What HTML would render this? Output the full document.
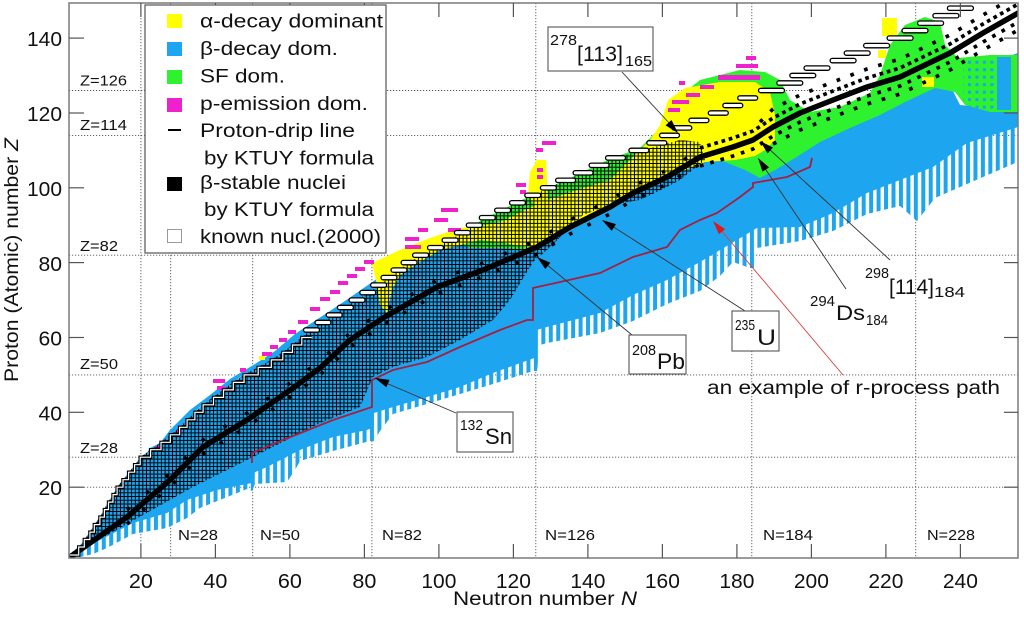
<!DOCTYPE html>
<html><head><meta charset="utf-8"><style>
html,body{margin:0;padding:0;background:#fff;overflow:hidden;}
svg{display:block;}
text{font-family:"Liberation Sans",Arial,sans-serif;fill:#111;}
</style></head><body>
<svg width="1024" height="621" viewBox="0 0 1024 621" xmlns="http://www.w3.org/2000/svg">
<defs>
<clipPath id="pc"><rect x="69" y="3" width="949" height="555"/></clipPath>
<pattern id="grid" patternUnits="userSpaceOnUse" width="3.725" height="3.742" patternTransform="translate(64.54,560.13)">
<path d="M0 0H3.725V3.742H0Z M0.5 0.5V3.242H3.225V0.5Z" fill="#000" fill-rule="evenodd"/>
</pattern>
<pattern id="teeth" patternUnits="userSpaceOnUse" width="7.45" height="20" patternTransform="translate(64.54,0)">
<rect x="0" y="0" width="4" height="20" fill="#1ea5ef"/>
</pattern>
<pattern id="gdots" patternUnits="userSpaceOnUse" width="7.45" height="7.484" patternTransform="translate(64.54,560.13)">
<rect x="2" y="2" width="3" height="3" fill="#1ea5ef"/>
</pattern>
</defs>

<rect x="0" y="0" width="1024" height="621" fill="#fff"/>

<g stroke="#555" stroke-width="0.9" stroke-dasharray="1.2 1.8" fill="none">
<line x1="69" y1="487.2" x2="1018" y2="487.2"/>
<line x1="69" y1="457.2" x2="1018" y2="457.2"/>
<line x1="69" y1="374.9" x2="1018" y2="374.9"/>
<line x1="69" y1="255.2" x2="1018" y2="255.2"/>
<line x1="69" y1="135.4" x2="1018" y2="135.4"/>
<line x1="69" y1="90.5" x2="1018" y2="90.5"/>
<line x1="140.9" y1="3" x2="140.9" y2="558"/>
<line x1="170.7" y1="3" x2="170.7" y2="558"/>
<line x1="252.7" y1="3" x2="252.7" y2="558"/>
<line x1="371.9" y1="3" x2="371.9" y2="558"/>
<line x1="535.8" y1="3" x2="535.8" y2="558"/>
<line x1="751.8" y1="3" x2="751.8" y2="558"/>
<line x1="915.7" y1="3" x2="915.7" y2="558"/>
</g>

<g clip-path="url(#pc)">
<polygon fill="#1ea5ef" points="69,558 72,552 79,547 84,540 90,532 94,525 100,517 104,510 108,502 113,495 117,487 123,480 129,472 135,465 140,457 151,450 161,442 170,435 180,427 187,420 195,412 203,405 213,397 223,390 233,382 244,375 258,367 271,360 283,352 292,345 302,337 311,330 323,322 334,315 345,307 357,300 368,293 379,285 389,278 399,270 409,263 421,255 435,248 450,240 462,233 474,225 487,218 503,210 517,203 533,195 548,188 566,180 583,173 599,165 615,158 660,150 700,140 740,130 760,150 773,160 800,145 840,130 873,113 907,97 933,83 950,85 960,105 995,108 997,60 1018,53 1018,127 967,143 933,167 900,180 867,193 833,213 800,227 757,228 700,262 667,280 633,295 600,313 543,328 537,330 537,357 493,373 460,387 427,397 393,407 374,413 372,428 367,430 333,437 300,450 267,467 253,473 252,483 217,490 187,500 167,513 133,523 100,540 80,550 72,557"/>
<polygon fill="url(#teeth)" points="72,559 93,554 107,548 133,534 167,528 187,518 200,508 247,489 252,491 255,484 287,482 295,470 300,461 333,451 370,441 374,441 380,431 393,414 427,404 460,394 493,384 533,371 537,371 540,345 547,343 600,333 633,321 667,304 700,291 720,276 733,262 750,268 755,268 757,248 800,241 833,231 867,214 900,206 917,221 935,198 967,184 1013,164 1018,161 1018,125 967,141 933,165 900,178 867,191 833,211 800,225 757,226 700,260 667,278 633,293 600,311 543,326 537,328 537,355 493,371 460,385 427,395 393,405 374,411 372,426 367,428 333,435 300,448 267,465 253,471 252,481 217,488 187,498 167,511 133,521 100,538 80,548 72,555"/>
<polygon fill="#1ea5ef" points="150,448 160,443 170,430 190,410 210,395 230,379 255,364 275,351 295,334 345,301 378,278 389,278 357,300 307,333 287,350 267,363 240,377 220,393 200,407 180,427 160,443 145,456"/>

<polygon fill="#2ef22e" points="452,238 470,228 483,219 500,211 517,202 533,195 548,188 566,180 583,172 599,164 615,157 640,148 660,128 675,100 700,80 740,70 765,72 780,80 790,100 810,112 840,107 870,93 880,75 890,45 905,25 925,17 940,22 945,45 958,58 990,55 1018,55 1018,112 990,112 965,105 955,92 935,88 905,102 880,115 850,128 820,142 795,158 775,170 760,178 745,170 720,160 700,160 667,180 633,196 610,210 570,230 537,250 500,248 470,248"/>
<rect x="963" y="60" width="34" height="50" fill="url(#gdots)"/>
<rect x="997" y="57" width="14" height="53" fill="#1ea5ef"/>

<polygon fill="#ffff00" points="372,263 400,250 430,238 460,228 480,226 500,222 525,210 550,199 583,188 610,180 630,160 650,140 660,125 668,100 685,88 720,82 755,82 770,92 775,115 775,140 765,150 755,156 735,160 705,162 690,168 670,176 650,186 633,193 615,203 595,214 575,223 555,236 540,248 520,246 500,242 480,240 460,245 440,250 420,262 400,275 392,290 387,313 380,305 377,285"/>
<polygon fill="#ffff00" points="528,195 530,172 537,160 546,160 548,200 538,212"/>
<g fill="#ffff00">
<rect x="882" y="18" width="15" height="18"/>
<rect x="878" y="50" width="8" height="8"/>
<rect x="922" y="77" width="12" height="10"/>
<rect x="259" y="356" width="6" height="4"/>
</g>

<g fill="#ee22cc">
<rect x="155" y="446" width="7" height="4"/>
<rect x="176" y="430" width="6" height="4"/>
<rect x="213" y="379" width="12" height="4"/>
<rect x="217" y="386" width="8" height="4"/>
<rect x="240" y="368" width="6" height="4"/>
<rect x="262" y="352" width="10" height="4"/>
<rect x="270" y="345" width="8" height="4"/>
<rect x="279" y="338" width="8" height="4"/>
<rect x="288" y="330" width="8" height="4"/>
<rect x="298" y="320" width="10" height="4"/>
<rect x="310" y="307" width="10" height="4"/>
<rect x="320" y="297" width="10" height="4"/>
<rect x="330" y="290" width="10" height="4"/>
<rect x="338" y="281" width="10" height="4"/>
<rect x="347" y="274" width="10" height="4"/>
<rect x="355" y="267" width="10" height="4"/>
<rect x="364" y="260" width="10" height="4"/>
<rect x="405" y="245" width="16" height="4"/>
<rect x="405" y="237" width="14" height="4"/>
<rect x="418" y="228" width="10" height="4"/>
<rect x="448" y="228" width="13" height="4"/>
<rect x="434" y="218" width="14" height="4"/>
<rect x="441" y="208" width="17" height="4"/>
<rect x="542" y="141" width="14" height="4"/>
<rect x="536" y="148" width="7" height="4"/>
<rect x="537" y="168" width="6" height="4"/>
<rect x="537" y="175" width="6" height="4"/>
<rect x="516" y="183" width="10" height="4"/>
<rect x="520" y="190" width="6" height="4"/>
<rect x="746" y="56" width="10" height="4"/>
<rect x="736" y="64" width="22" height="4"/>
<rect x="718" y="75" width="42" height="5"/>
<rect x="700" y="85" width="14" height="4"/>
<rect x="686" y="93" width="14" height="4"/>
<rect x="672" y="100" width="17" height="4"/>
<rect x="668" y="108" width="12" height="4"/>
<rect x="679" y="81" width="6" height="4"/>
</g>

<polygon fill="url(#grid)" points="69,558 72,552 79,547 84,540 90,532 94,525 100,517 104,510 108,502 113,495 117,487 123,480 129,472 135,465 140,457 151,450 161,442 170,435 180,427 187,420 195,412 203,405 213,397 223,390 233,382 244,375 258,367 271,360 283,352 292,345 302,337 311,330 323,322 334,315 345,307 357,300 368,293 379,285 389,278 399,270 409,263 421,255 435,248 450,240 462,233 474,225 487,218 503,210 517,203 533,195 548,188 566,180 583,173 599,165 615,158 650,148 680,140 700,142 705,160 680,180 667,187 640,200 610,205 583,215 547,250 533,262 510,300 493,320 460,340 427,357 393,367 373,377 360,407 320,423 253,457 193,487 93,543 72,557"/>

<g fill="none" stroke="#000">
<path stroke-width="5.5" stroke-linejoin="round" d="M70 557 L127 517 L170 480 L203 447 L247 420 L293 388 L320 368 L350 340 L383 318 L437 287 L483 270 L537 247 L570 227 L610 207 L633 193 L667 177 L700 157 L733 147 L753 140 L773 127 L800 113 L833 100 L867 87 L900 77 L950 53 L983 33 L1020 12"/>
<path stroke-width="3.5" stroke-dasharray="3.5 22" d="M127 510 L170 473 L203 440 L247 413 L293 381 L320 361 L350 333 L383 311 L437 280 L483 263 L537 240 L570 220 L610 200 L633 186 L667 170 L700 150"/>
<path stroke-width="3.5" stroke-dasharray="3.5 17" d="M127 524 L170 487 L203 454 L247 427 L293 395 L320 375 L350 347 L383 325 L437 294 L483 277 L537 254 L570 234 L610 214 L633 200 L667 184 L700 164"/>
<path stroke-width="3.7" stroke-dasharray="3.7 3.8" d="M700 148 L733 138 L753 131 L773 118 L800 104 L833 91 L867 78 L900 68 L950 44 L983 24 L1020 3"/>
<path stroke-width="3.7" stroke-dasharray="3.7 11" d="M760 122 L773 109 L800 95 L833 82 L867 69 L900 59 L950 35 L983 15 L1020 -6"/>
<path stroke-width="3.7" stroke-dasharray="3.7 7" d="M700 166 L733 156 L753 149 L773 136 L800 122 L833 109 L867 96 L900 86 L950 62 L983 42 L1020 21"/>
<path stroke-width="3.7" stroke-dasharray="3.7 11" d="M773 144 L800 130 L833 117 L867 104 L900 94 L950 70 L983 50 L1020 29"/>
</g>

<path fill="none" stroke="#000" stroke-width="3.4" d="M70 555 L78.7 555 L78.7 547 L84.3 547 L84.3 539.5 L89.9 539.5 L89.9 532.1 L94.3 532.1 L94.3 524.6 L99.9 524.6 L99.9 517.1 L104.4 517.1 L104.4 509.6 L108.5 509.6 L108.5 502.1 L113 502.1 L113 494.6 L117.1 494.6 L117.1 487.2 L123 487.2 L123 479.7 L128.6 479.7 L128.6 472.2 L134.6 472.2 L134.6 464.7 L140.2 464.7 L140.2 457.2 L150.6 457.2 L150.6 449.7 L161 449.7 L161 442.3 L170.3 442.3 L170.3 434.8 L179.6 434.8 L179.6 427.3 L187.1 427.3 L187.1 419.8 L194.9 419.8 L194.9 412.3 L203.1 412.3 L203.1 404.8 L213.5 404.8 L213.5 397.4 L223.5 397.4 L223.5 389.9 L233.3 389.9 L233.3 382.4 L244.1 382.4 L244.1 374.9 L258.2 374.9 L258.2 367.4 L271.3 367.4 L271.3 359.9 L282.8 359.9 L282.8 352.4 L292.5 352.4 L292.5 345 L301.8 345 L301.8 337.5 L311.5 337.5"/>
<path fill="none" stroke="#fff" stroke-width="1.2" d="M70 555 L78.7 555 L78.7 547 L84.3 547 L84.3 539.5 L89.9 539.5 L89.9 532.1 L94.3 532.1 L94.3 524.6 L99.9 524.6 L99.9 517.1 L104.4 517.1 L104.4 509.6 L108.5 509.6 L108.5 502.1 L113 502.1 L113 494.6 L117.1 494.6 L117.1 487.2 L123 487.2 L123 479.7 L128.6 479.7 L128.6 472.2 L134.6 472.2 L134.6 464.7 L140.2 464.7 L140.2 457.2 L150.6 457.2 L150.6 449.7 L161 449.7 L161 442.3 L170.3 442.3 L170.3 434.8 L179.6 434.8 L179.6 427.3 L187.1 427.3 L187.1 419.8 L194.9 419.8 L194.9 412.3 L203.1 412.3 L203.1 404.8 L213.5 404.8 L213.5 397.4 L223.5 397.4 L223.5 389.9 L233.3 389.9 L233.3 382.4 L244.1 382.4 L244.1 374.9 L258.2 374.9 L258.2 367.4 L271.3 367.4 L271.3 359.9 L282.8 359.9 L282.8 352.4 L292.5 352.4 L292.5 345 L301.8 345 L301.8 337.5 L311.5 337.5"/>
<g fill="#fff" stroke="#000" stroke-width="1.3">
<rect x="303.5" y="327.8" width="16" height="4.4" rx="2.2"/>
<rect x="315" y="320.3" width="16" height="4.4" rx="2.2"/>
<rect x="326.2" y="312.8" width="16" height="4.4" rx="2.2"/>
<rect x="337.4" y="305.3" width="16" height="4.4" rx="2.2"/>
<rect x="349" y="297.9" width="16" height="4.4" rx="2.2"/>
<rect x="359.8" y="290.4" width="16" height="4.4" rx="2.2"/>
<rect x="370.6" y="282.9" width="16" height="4.4" rx="2.2"/>
<rect x="381" y="275.4" width="16" height="4.4" rx="2.2"/>
<rect x="391" y="267.9" width="16" height="4.4" rx="2.2"/>
<rect x="401.1" y="260.4" width="16" height="4.4" rx="2.2"/>
<rect x="412.6" y="253" width="16" height="4.4" rx="2.2"/>
<rect x="427.5" y="245.5" width="16" height="4.4" rx="2.2"/>
<rect x="442.1" y="238" width="16" height="4.4" rx="2.2"/>
<rect x="454.4" y="230.5" width="16" height="4.4" rx="2.2"/>
<rect x="466.3" y="223" width="16" height="4.4" rx="2.2"/>
<rect x="479.3" y="215.5" width="16" height="4.4" rx="2.2"/>
<rect x="494.6" y="208.1" width="16" height="4.4" rx="2.2"/>
<rect x="509.5" y="200.6" width="16" height="4.4" rx="2.2"/>
<rect x="524.8" y="193.1" width="16" height="4.4" rx="2.2"/>
<rect x="540.4" y="185.6" width="16" height="4.4" rx="2.2"/>
<rect x="555.6" y="178.1" width="20" height="4.4" rx="2.2"/>
<rect x="573.1" y="170.6" width="20" height="4.4" rx="2.2"/>
<rect x="589.1" y="163.1" width="20" height="4.4" rx="2.2"/>
<rect x="605.5" y="155.7" width="20" height="4.4" rx="2.2"/>
<rect x="628.9" y="148.2" width="20" height="4.4" rx="2.2"/>
<rect x="646.8" y="140.7" width="20" height="4.4" rx="2.2"/>
<rect x="659.5" y="133.2" width="20" height="4.4" rx="2.2"/>
<rect x="671.8" y="125.7" width="20" height="4.4" rx="2.2"/>
<rect x="688.9" y="118.2" width="20" height="4.4" rx="2.2"/>
<rect x="708.3" y="110.8" width="20" height="4.4" rx="2.2"/>
<rect x="722.8" y="103.3" width="20" height="4.4" rx="2.2"/>
<rect x="737.7" y="95.8" width="20" height="4.4" rx="2.2"/>
<rect x="758.5" y="88.3" width="26" height="4.4" rx="2.2"/>
<rect x="776.8" y="80.8" width="26" height="4.4" rx="2.2"/>
<rect x="789.8" y="73.3" width="26" height="4.4" rx="2.2"/>
<rect x="804" y="65.9" width="26" height="4.4" rx="2.2"/>
<rect x="830.1" y="58.4" width="26" height="4.4" rx="2.2"/>
<rect x="844.2" y="50.9" width="26" height="4.4" rx="2.2"/>
<rect x="863.6" y="43.4" width="26" height="4.4" rx="2.2"/>
<rect x="887.1" y="35.9" width="26" height="4.4" rx="2.2"/>
<rect x="902" y="28.4" width="26" height="4.4" rx="2.2"/>
<rect x="917.6" y="21" width="26" height="4.4" rx="2.2"/>
<rect x="932.9" y="13.5" width="26" height="4.4" rx="2.2"/>
<rect x="947.4" y="6" width="26" height="4.4" rx="2.2"/>
</g>

<polyline fill="none" stroke="#a52040" stroke-width="1.8" points="252,463 252,453 283,440 333,420 372,407 372,380 393,370 427,362 460,347 500,330 527,320 533,320 533,288 560,282 600,273 633,257 667,247 680,230 700,220 717,213 740,197 753,187 753,183 787,177 810,167 812,158"/>
</g>

<rect x="69" y="3" width="949" height="555" fill="none" stroke="#7a7a7a" stroke-width="1.5"/>
<g stroke="#555" stroke-width="1.2">
<line x1="69" y1="487.2" x2="84" y2="487.2"/><line x1="69" y1="412.3" x2="84" y2="412.3"/><line x1="69" y1="337.5" x2="84" y2="337.5"/><line x1="69" y1="262.6" x2="84" y2="262.6"/><line x1="69" y1="187.8" x2="84" y2="187.8"/><line x1="69" y1="113" x2="84" y2="113"/><line x1="69" y1="38.1" x2="84" y2="38.1"/>
<line x1="1018" y1="487.2" x2="1004" y2="487.2"/><line x1="1018" y1="412.3" x2="1004" y2="412.3"/><line x1="1018" y1="337.5" x2="1004" y2="337.5"/><line x1="1018" y1="262.6" x2="1004" y2="262.6"/><line x1="1018" y1="187.8" x2="1004" y2="187.8"/><line x1="1018" y1="113" x2="1004" y2="113"/><line x1="1018" y1="38.1" x2="1004" y2="38.1"/>
<line x1="140.9" y1="558" x2="140.9" y2="544"/><line x1="215.4" y1="558" x2="215.4" y2="544"/><line x1="289.9" y1="558" x2="289.9" y2="544"/><line x1="364.4" y1="558" x2="364.4" y2="544"/><line x1="438.9" y1="558" x2="438.9" y2="544"/><line x1="513.4" y1="558" x2="513.4" y2="544"/><line x1="587.9" y1="558" x2="587.9" y2="544"/><line x1="662.4" y1="558" x2="662.4" y2="544"/><line x1="736.9" y1="558" x2="736.9" y2="544"/><line x1="811.4" y1="558" x2="811.4" y2="544"/><line x1="885.9" y1="558" x2="885.9" y2="544"/><line x1="960.4" y1="558" x2="960.4" y2="544"/>
<line x1="140.9" y1="3" x2="140.9" y2="17"/><line x1="215.4" y1="3" x2="215.4" y2="17"/><line x1="289.9" y1="3" x2="289.9" y2="17"/><line x1="364.4" y1="3" x2="364.4" y2="17"/><line x1="438.9" y1="3" x2="438.9" y2="17"/><line x1="513.4" y1="3" x2="513.4" y2="17"/><line x1="587.9" y1="3" x2="587.9" y2="17"/><line x1="662.4" y1="3" x2="662.4" y2="17"/><line x1="736.9" y1="3" x2="736.9" y2="17"/><line x1="811.4" y1="3" x2="811.4" y2="17"/><line x1="885.9" y1="3" x2="885.9" y2="17"/><line x1="960.4" y1="3" x2="960.4" y2="17"/>
</g>

<g font-size="20">
<text x="27" y="46" textLength="35" lengthAdjust="spacingAndGlyphs">140</text>
<text x="27" y="121" textLength="35" lengthAdjust="spacingAndGlyphs">120</text>
<text x="27" y="196" textLength="35" lengthAdjust="spacingAndGlyphs">100</text>
<text x="38.5" y="271" textLength="23.5" lengthAdjust="spacingAndGlyphs">80</text>
<text x="38.5" y="345.5" textLength="23.5" lengthAdjust="spacingAndGlyphs">60</text>
<text x="38.5" y="420.3" textLength="23.5" lengthAdjust="spacingAndGlyphs">40</text>
<text x="38.5" y="495.2" textLength="23.5" lengthAdjust="spacingAndGlyphs">20</text>
<text x="128.9" y="588" textLength="24" lengthAdjust="spacingAndGlyphs">20</text>
<text x="203.4" y="588" textLength="24" lengthAdjust="spacingAndGlyphs">40</text>
<text x="277.9" y="588" textLength="24" lengthAdjust="spacingAndGlyphs">60</text>
<text x="352.4" y="588" textLength="24" lengthAdjust="spacingAndGlyphs">80</text>
<text x="421.4" y="588" textLength="35" lengthAdjust="spacingAndGlyphs">100</text>
<text x="495.9" y="588" textLength="35" lengthAdjust="spacingAndGlyphs">120</text>
<text x="570.4" y="588" textLength="35" lengthAdjust="spacingAndGlyphs">140</text>
<text x="644.9" y="588" textLength="35" lengthAdjust="spacingAndGlyphs">160</text>
<text x="719.4" y="588" textLength="35" lengthAdjust="spacingAndGlyphs">180</text>
<text x="793.9" y="588" textLength="35" lengthAdjust="spacingAndGlyphs">200</text>
<text x="868.4" y="588" textLength="35" lengthAdjust="spacingAndGlyphs">220</text>
<text x="942.9" y="588" textLength="35" lengthAdjust="spacingAndGlyphs">240</text>
</g>

<text x="453" y="605" font-size="19" textLength="184" lengthAdjust="spacingAndGlyphs">Neutron number <tspan font-style="italic">N</tspan></text>
<text transform="translate(18,382) rotate(-90)" x="0" y="0" font-size="19" textLength="244" lengthAdjust="spacingAndGlyphs">Proton (Atomic) number <tspan font-style="italic">Z</tspan></text>

<g font-size="14.5">
<text x="80" y="85.5" textLength="47" lengthAdjust="spacingAndGlyphs">Z=126</text>
<text x="80" y="130" textLength="47" lengthAdjust="spacingAndGlyphs">Z=114</text>
<text x="80" y="251" textLength="38" lengthAdjust="spacingAndGlyphs">Z=82</text>
<text x="80" y="369" textLength="38" lengthAdjust="spacingAndGlyphs">Z=50</text>
<text x="80" y="453" textLength="38" lengthAdjust="spacingAndGlyphs">Z=28</text>
<text x="178" y="540" textLength="40" lengthAdjust="spacingAndGlyphs">N=28</text>
<text x="260" y="540" textLength="40" lengthAdjust="spacingAndGlyphs">N=50</text>
<text x="382" y="540" textLength="40" lengthAdjust="spacingAndGlyphs">N=82</text>
<text x="545" y="540" textLength="50" lengthAdjust="spacingAndGlyphs">N=126</text>
<text x="763" y="540" textLength="50" lengthAdjust="spacingAndGlyphs">N=184</text>
<text x="927" y="540" textLength="48" lengthAdjust="spacingAndGlyphs">N=228</text>
</g>

<g stroke="#333" stroke-width="0.9">
<line x1="622" y1="72" x2="670" y2="124"/>
<line x1="890" y1="260" x2="768" y2="148"/>
<line x1="846" y1="289" x2="764" y2="167"/>
<line x1="745" y1="311" x2="612" y2="226"/>
<line x1="632" y1="335" x2="546" y2="264"/>
<line x1="456" y1="413" x2="386" y2="383"/>
</g>
<line x1="843" y1="375" x2="720" y2="229" stroke="#e03a3a" stroke-width="0.9"/>
<g fill="#000">
<polygon points="678,133 665.6,125.4 671.5,120"/>
<polygon points="760,141 773,147.5 767.6,153.4"/>
<polygon points="758,158 769.1,167.4 762.5,171.8"/>
<polygon points="602,220 616,224.1 611.7,230.9"/>
<polygon points="537,257 550.4,262.8 545.3,269"/>
<polygon points="375,378 389.5,379.9 386.3,387.3"/>
</g>
<polygon points="713,221 725.1,229.1 719,234.3" fill="#e01818"/>

<g fill="#fff" stroke="#555" stroke-width="1.1">
<rect x="548" y="27" width="105" height="44"/>
<rect x="732" y="311" width="47" height="40"/>
<rect x="629" y="335" width="57" height="39"/>
<rect x="457" y="412" width="56" height="40"/>
</g>
<text x="550" y="45" font-size="15" textLength="27" lengthAdjust="spacingAndGlyphs">278</text>
<text x="577" y="61" font-size="21" textLength="46" lengthAdjust="spacingAndGlyphs">[113]</text>
<text x="625" y="66" font-size="15" textLength="27" lengthAdjust="spacingAndGlyphs">165</text>

<text x="865" y="278" font-size="15" textLength="24" lengthAdjust="spacingAndGlyphs">298</text>
<text x="889" y="294" font-size="21" textLength="45" lengthAdjust="spacingAndGlyphs">[114]</text>
<text x="934" y="297" font-size="15" textLength="31" lengthAdjust="spacingAndGlyphs">184</text>

<text x="810" y="306" font-size="15" textLength="25" lengthAdjust="spacingAndGlyphs">294</text>
<text x="836" y="320" font-size="21" textLength="29" lengthAdjust="spacingAndGlyphs">Ds</text>
<text x="866" y="325" font-size="15" textLength="22" lengthAdjust="spacingAndGlyphs">184</text>

<text x="735" y="330" font-size="15" textLength="20" lengthAdjust="spacingAndGlyphs">235</text>
<text x="757" y="345" font-size="22" textLength="19" lengthAdjust="spacingAndGlyphs">U</text>

<text x="632" y="355" font-size="15" textLength="24" lengthAdjust="spacingAndGlyphs">208</text>
<text x="657" y="369" font-size="22" textLength="28" lengthAdjust="spacingAndGlyphs">Pb</text>

<text x="460" y="430" font-size="15" textLength="23" lengthAdjust="spacingAndGlyphs">132</text>
<text x="485" y="444" font-size="22" textLength="27" lengthAdjust="spacingAndGlyphs">Sn</text>

<text x="707" y="394" font-size="19" textLength="293" lengthAdjust="spacingAndGlyphs">an example of r-process path</text>

<rect x="145" y="5" width="241" height="248" fill="#fff" stroke="#555" stroke-width="1.2"/>
<rect x="167" y="14" width="15" height="14" fill="#ffff00"/>
<rect x="167" y="42" width="15" height="14" fill="#1ea5ef"/>
<rect x="167" y="70" width="15" height="14" fill="#2ef22e"/>
<rect x="167" y="98" width="15" height="14" fill="#ee22cc"/>
<line x1="168" y1="130" x2="181" y2="130" stroke="#000" stroke-width="2"/>
<rect x="167" y="177" width="15" height="14" fill="#000"/>
<rect x="167.5" y="229.5" width="14" height="13" fill="#fff" stroke="#999" stroke-width="1"/>
<g font-size="19">
<text x="200" y="27.5" textLength="183" lengthAdjust="spacingAndGlyphs">α-decay dominant</text>
<text x="200" y="55" textLength="138" lengthAdjust="spacingAndGlyphs">β-decay dom.</text>
<text x="200" y="82.5" textLength="85" lengthAdjust="spacingAndGlyphs">SF dom.</text>
<text x="200" y="110" textLength="168" lengthAdjust="spacingAndGlyphs">p-emission dom.</text>
<text x="200" y="137" textLength="155" lengthAdjust="spacingAndGlyphs">Proton-drip line</text>
<text x="204" y="164.5" textLength="170" lengthAdjust="spacingAndGlyphs">by KTUY formula</text>
<text x="200" y="189" textLength="146" lengthAdjust="spacingAndGlyphs">β-stable nuclei</text>
<text x="204" y="216" textLength="170" lengthAdjust="spacingAndGlyphs">by KTUY formula</text>
<text x="200" y="243" textLength="181" lengthAdjust="spacingAndGlyphs">known nucl.(2000)</text>
</g>
</svg>
</body></html>
